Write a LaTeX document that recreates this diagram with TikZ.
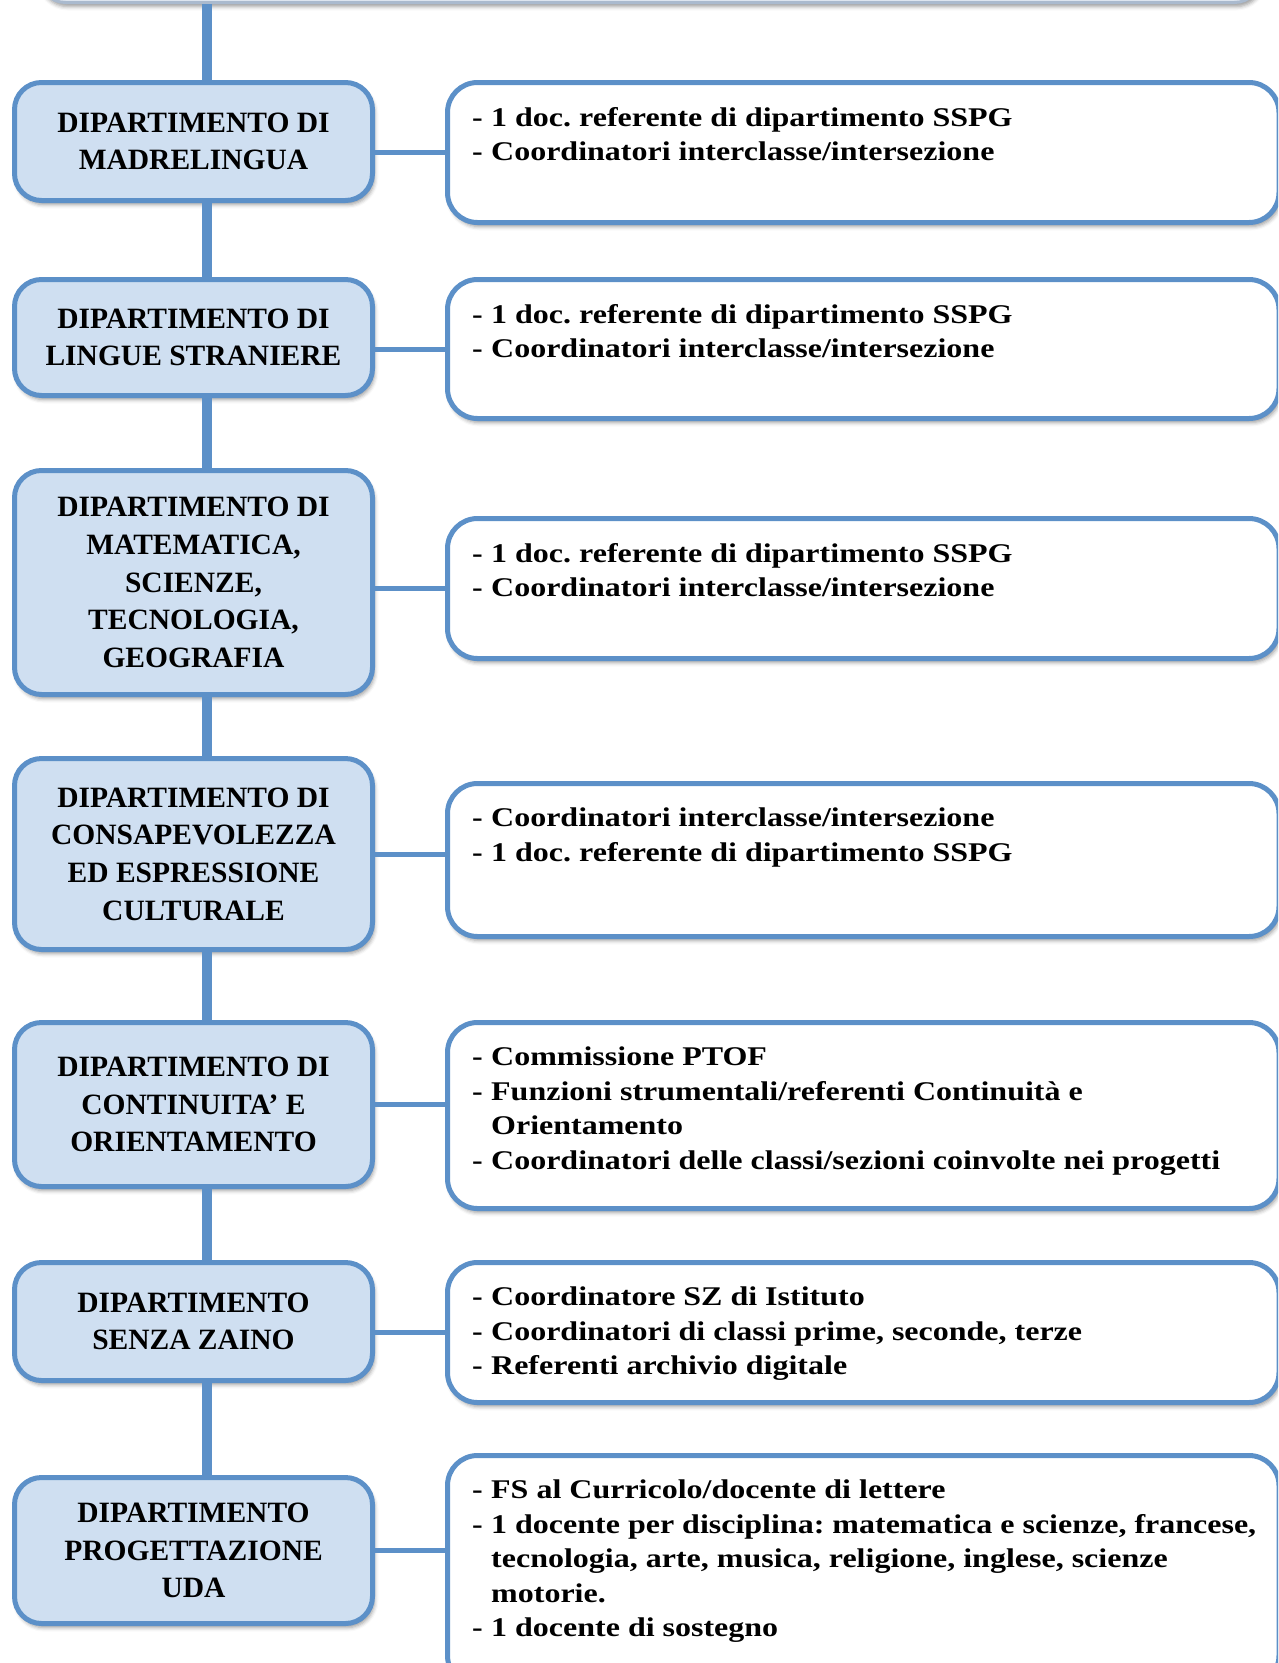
\documentclass[tikz,border=0pt]{standalone}
\usepackage{fontspec}
\setmainfont{Liberation Serif}
\newfontfamily\listfont[FakeStretch=1.185]{Liberation Serif}
\usetikzlibrary{shadows.blur}
\definecolor{deptblue}{RGB}{92,144,200}
\definecolor{deptfill}{RGB}{207,223,241}
\definecolor{headfill}{RGB}{221,229,239}
\definecolor{headline}{RGB}{170,186,206}
\newcommand{\dl}[1]{\makebox[19pt][l]{-}#1}
\newcommand{\cl}[1]{\hspace*{19pt}#1}
\frenchspacing

\begin{document}
\begin{tikzpicture}[x=1pt,y=-1pt]
	\tikzstyle{shade} = [blur shadow={shadow xshift=2pt, shadow yshift=-4pt, shadow blur radius=4pt, shadow opacity=40}]
	\tikzstyle{dept} = [shade, draw=deptblue, line width=5pt, fill=deptfill, rounded corners=27pt, minimum width=358pt, inner sep=0pt, anchor=north west, align=center, font=\bfseries\fontsize{29.5}{37.6}\selectfont]
	\tikzstyle{members} = [shade, draw=deptblue, line width=5pt, fill=white, rounded corners=30pt, minimum width=831.5pt, inner sep=0pt, anchor=north west]
	\tikzstyle{listtext} = [anchor=north west, inner sep=0pt, align=left, font=\listfont\bfseries\fontsize{27}{34.5}\selectfont]
	\tikzstyle{spine} = [deptblue, line width=10pt]
	\tikzstyle{link} = [deptblue, line width=5pt]
	\def\lx{12}
	\def\rx{445}

	\useasboundingbox (0,0) rectangle (1278,1663);
	\clip (0,0) rectangle (1278,1663);

	% head box, only its lower edge is on the page
	\node[shade, draw=headline, line width=3pt, fill=headfill, rounded corners=27pt, minimum width=1223pt, minimum height=200pt, anchor=south] (head) at (650,4) {};
	\coordinate (s0) at (207,0);

	% departments
	\node[dept, minimum height=118pt] (l1) at (\lx,80) {DIPARTIMENTO DI\\MADRELINGUA};
	\node[dept, minimum height=116pt] (l2) at (\lx,277) {DIPARTIMENTO DI\\LINGUE STRANIERE};
	\node[dept, minimum height=224pt] (l3) at (\lx,468) {DIPARTIMENTO DI\\MATEMATICA,\\SCIENZE,\\TECNOLOGIA,\\GEOGRAFIA};
	\node[dept, minimum height=191pt] (l4) at (\lx,756) {DIPARTIMENTO DI\\CONSAPEVOLEZZA\\ED ESPRESSIONE\\CULTURALE};
	\node[dept, minimum height=164pt] (l5) at (\lx,1020) {DIPARTIMENTO DI\\CONTINUITA’ E\\ORIENTAMENTO};
	\node[dept, minimum height=118pt] (l6) at (\lx,1260) {DIPARTIMENTO\\SENZA ZAINO};
	\node[dept, minimum height=146pt] (l7) at (\lx,1475) {DIPARTIMENTO\\PROGETTAZIONE\\UDA};

	% members
	\foreach \name/\y/\h in {r1/80/140, r2/277/139, r3/516/140, r4/781/153, r5/1020/186, r6/1260/140, r7/1453/230}
		\node[members, minimum height=\h pt] (\name) at (\rx,\y) {};

	\node[listtext] (t1) at ([xshift=27pt, yshift=-27pt]r1.north west) {\dl{1 doc. referente di dipartimento SSPG}\\\dl{Coordinatori interclasse/intersezione}};
	\node[listtext] (t2) at ([xshift=27pt, yshift=-27pt]r2.north west) {\dl{1 doc. referente di dipartimento SSPG}\\\dl{Coordinatori interclasse/intersezione}};
	\node[listtext] (t3) at ([xshift=27pt, yshift=-27pt]r3.north west) {\dl{1 doc. referente di dipartimento SSPG}\\\dl{Coordinatori interclasse/intersezione}};
	\node[listtext] (t4) at ([xshift=27pt, yshift=-27pt]r4.north west) {\dl{Coordinatori interclasse/intersezione}\\\dl{1 doc. referente di dipartimento SSPG}};
	\node[listtext] (t5) at ([xshift=27pt, yshift=-27pt]r5.north west) {\dl{Commissione PTOF}\\\dl{Funzioni strumentali/referenti Continuità e}\\\cl{Orientamento}\\\dl{Coordinatori delle classi/sezioni coinvolte nei progetti}};
	\node[listtext] (t6) at ([xshift=27pt, yshift=-27pt]r6.north west) {\dl{Coordinatore SZ di Istituto}\\\dl{Coordinatori di classi prime, seconde, terze}\\\dl{Referenti archivio digitale}};
	\node[listtext] (t7) at ([xshift=27pt, yshift=-27pt]r7.north west) {\dl{FS al Curricolo/docente di lettere}\\\dl{1 docente per disciplina: matematica e scienze, francese,}\\\cl{tecnologia, arte, musica, religione, inglese, scienze}\\\cl{motorie.}\\\dl{1 docente di sostegno}};

	% spine
	\draw[spine] (head.south -| s0) -- (l1.north -| s0);
	\foreach \from/\to in {l1/l2, l2/l3, l3/l4, l4/l5, l5/l6, l6/l7}
		\draw[spine] (\from.south -| s0) -- (\to.north -| s0);

	% links
	\foreach \from/\to in {l1/r1, l2/r2, l3/r3, l6/r6}
		\draw[link] (\to.west -| \from.east) -- (\to.west);
	\foreach \from/\to in {l4/r4, l5/r5, l7/r7}
		\draw[link] (\from.east) -- (\from.east -| \to.west);

\end{tikzpicture}
\end{document}
